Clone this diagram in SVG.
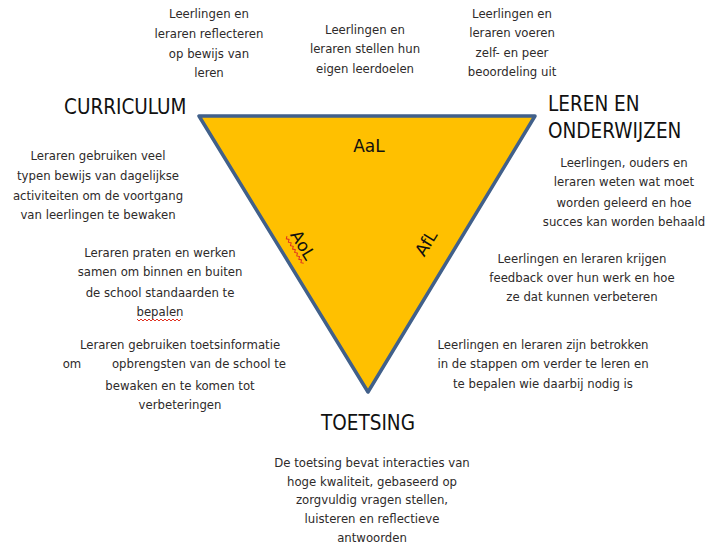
<svg xmlns="http://www.w3.org/2000/svg" width="710" height="545" viewBox="0 0 710 545">
<style>
.t{font-family:"DejaVu Sans Condensed","DejaVu Sans",sans-serif;font-size:13px;fill:#2e2a2a;text-anchor:middle}
.h{font-family:"DejaVu Sans Condensed","DejaVu Sans",sans-serif;font-size:20.5px;fill:#111}
.l{font-family:"DejaVu Sans",sans-serif;font-size:17px;fill:#111;text-anchor:middle}
.sq{fill:none;stroke:#e03020;stroke-width:1}
</style>
<rect width="710" height="545" fill="#fff"/>
<g id="triangle">
<polygon points="199,116 535,116 368,392" fill="#FFC000" stroke="#41608a" stroke-width="3.5" stroke-linejoin="round"/>
<text class="l" x="369" y="152">AaL</text>
<g transform="translate(303,245) rotate(58.5)">
<text class="l" x="0" y="6">AoL</text>
<path class="sq" d="M-16,9 l2,2 l2,-2 l2,2 l2,-2 l2,2 l2,-2 l2,2 l2,-2 l2,2 l2,-2 l2,2 l2,-2 l2,2 l2,-2 l2,2 l2,-2"/>
</g>
<g transform="translate(426,243) rotate(-58.5)">
<text class="l" x="0" y="6">AfL</text>
</g>
</g>
<g id="corners">
<text class="h" x="64" y="114">CURRICULUM</text>
<text class="h" x="548" y="111">LEREN EN</text>
<text class="h" x="548" y="138">ONDERWIJZEN</text>
<text class="h" x="321" y="430">TOETSING</text>
</g>
<g id="top-left">
<text class="t" x="209" y="18">Leerlingen en</text>
<text class="t" x="209" y="38">leraren reflecteren</text>
<text class="t" x="209" y="58">op bewijs van</text>
<text class="t" x="209" y="77">leren</text>
</g>
<g id="top-middle">
<text class="t" x="365" y="34">Leerlingen en</text>
<text class="t" x="365" y="53">leraren stellen hun</text>
<text class="t" x="365" y="73">eigen leerdoelen</text>
</g>
<g id="top-right">
<text class="t" x="512" y="18">Leerlingen en</text>
<text class="t" x="512" y="37">leraren voeren</text>
<text class="t" x="512" y="57">zelf- en peer</text>
<text class="t" x="512" y="76">beoordeling uit</text>
</g>
<g id="left-1">
<text class="t" x="98" y="160">Leraren gebruiken veel</text>
<text class="t" x="98" y="180">typen bewijs van dagelijkse</text>
<text class="t" x="98" y="200">activiteiten om de voortgang</text>
<text class="t" x="98" y="219">van leerlingen te bewaken</text>
</g>
<g id="left-2">
<text class="t" x="160" y="257">Leraren praten en werken</text>
<text class="t" x="160" y="276">samen om binnen en buiten</text>
<text class="t" x="160" y="297">de school standaarden te</text>
<text class="t" x="160" y="316">bepalen</text>
<path class="sq" d="M137,319 l2,2 l2,-2 l2,2 l2,-2 l2,2 l2,-2 l2,2 l2,-2 l2,2 l2,-2 l2,2 l2,-2 l2,2 l2,-2 l2,2 l2,-2 l2,2 l2,-2 l2,2 l2,-2 l2,2 l2,-2"/>
</g>
<g id="left-3">
<text class="t" x="180" y="349">Leraren gebruiken toetsinformatie</text>
<text class="t" x="72" y="368">om</text>
<text class="t" x="199" y="368">opbrengsten van de school te</text>
<text class="t" x="180" y="390">bewaken en te komen tot</text>
<text class="t" x="180" y="409">verbeteringen</text>
</g>
<g id="right-1">
<text class="t" x="624" y="167">Leerlingen, ouders en</text>
<text class="t" x="624" y="186">leraren weten wat moet</text>
<text class="t" x="624" y="207">worden geleerd en hoe</text>
<text class="t" x="624" y="226">succes kan worden behaald</text>
</g>
<g id="right-2">
<text class="t" x="582" y="263">Leerlingen en leraren krijgen</text>
<text class="t" x="582" y="282">feedback over hun werk en hoe</text>
<text class="t" x="582" y="301">ze dat kunnen verbeteren</text>
</g>
<g id="right-3">
<text class="t" x="543" y="349">Leerlingen en leraren zijn betrokken</text>
<text class="t" x="543" y="368">in de stappen om verder te leren en</text>
<text class="t" x="543" y="388">te bepalen wie daarbij nodig is</text>
</g>
<g id="bottom">
<text class="t" x="372" y="467">De toetsing bevat interacties van</text>
<text class="t" x="372" y="486">hoge kwaliteit, gebaseerd op</text>
<text class="t" x="372" y="504">zorgvuldig vragen stellen,</text>
<text class="t" x="372" y="523">luisteren en reflectieve</text>
<text class="t" x="372" y="542">antwoorden</text>
</g>
</svg>
